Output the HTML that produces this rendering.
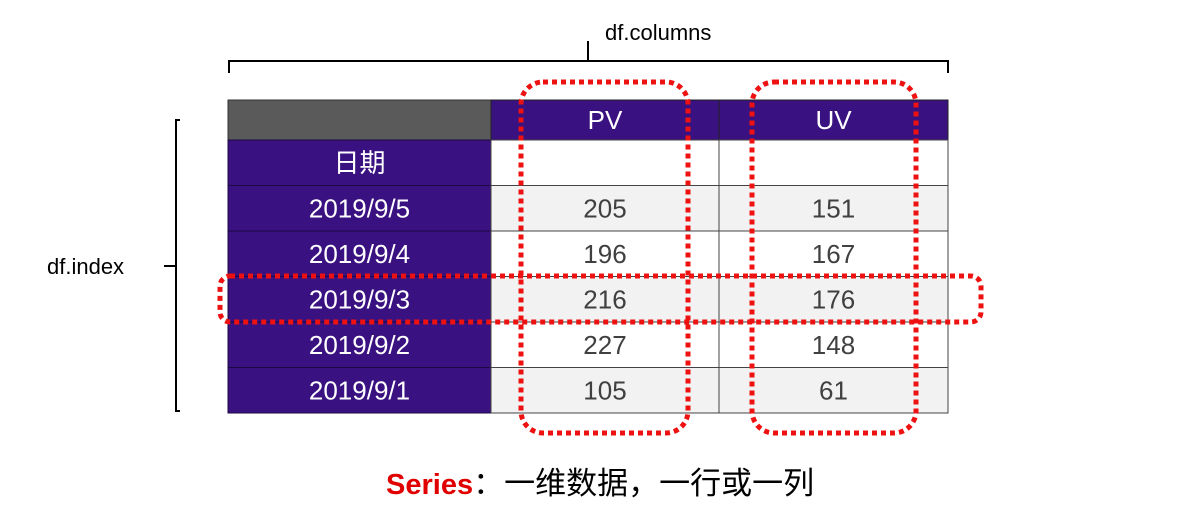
<!DOCTYPE html>
<html><head><meta charset="utf-8"><style>
html,body{margin:0;padding:0;background:#fff;width:1200px;height:523px;overflow:hidden}
svg text{font-family:"Liberation Sans","Noto Sans CJK SC",sans-serif}
.cell{font-size:26px;fill:#404040;text-anchor:middle;dominant-baseline:central}
.idx{font-size:26px;fill:#fff;text-anchor:middle;dominant-baseline:central}
</style></head><body>
<svg width="1200" height="523" viewBox="0 0 1200 523">
<g stroke="#000" stroke-width="2" fill="none">
<path d="M229 73 V61 H948 V73"/><path d="M588 61 V41"/></g>
<text x="605" y="40" font-size="22" fill="#000">df.columns</text>
<g stroke="#000" stroke-width="2" fill="none">
<path d="M180 120 H176 V411 H180"/><path d="M164 266 H176"/></g>
<text x="47" y="274" font-size="22" fill="#000">df.index</text>
<g id="tbl"></g>
<g fill="none" stroke="#ee1111" stroke-width="5" stroke-dasharray="5 4">
<rect x="521" y="82" width="167" height="351" rx="22"/>
<rect x="752" y="82" width="164" height="351" rx="22"/>
<rect x="220" y="276" width="761" height="46" rx="10"/>
</g>
<text x="386" y="494" font-size="29"><tspan fill="#e00000" font-weight="bold">Series</tspan><tspan fill="#000" font-size="31">：一维数据，一行或一列</tspan></text>
</svg>
<script>
const dates=["2019/9/5","2019/9/4","2019/9/3","2019/9/2","2019/9/1"];
const pv=[205,196,216,227,105];
const uv=[151,167,176,148,61];
const columns=["PV","UV"];
const tbl=document.getElementById('tbl');
const NS="http://www.w3.org/2000/svg";
function mk(t,a,txt){const e=document.createElementNS(NS,t);for(const k in a)e.setAttribute(k,a[k]);if(txt!==undefined)e.textContent=txt;tbl.appendChild(e);return e;}
const X=[228,491,719,948];const tableTop=100,rh=45.5;
let hc=mk('rect',{x:228,y:tableTop,width:263,height:40,fill:'#5a5a5a',stroke:'#333'});


columns.forEach((c,i)=>{let r=mk('rect',{x:X[i+1],y:tableTop,width:X[i+2]-X[i+1],height:40,fill:'#3a1180',stroke:'#222'});


mk('text',{x:(X[i+1]+X[i+2])/2,y:tableTop+20,class:'idx'},c);});
const y0=140;
function row(i,label,vals,shade){const y=y0+i*rh;
let r=mk('rect',{x:228,y:y,width:263,height:rh,fill:'#3a1180',stroke:'#1a0840'});


mk('text',{x:359.5,y:y+rh/2,class:'idx'},label);
vals.forEach((v,j)=>{let c=mk('rect',{x:X[j+1],y:y,width:X[j+2]-X[j+1],height:rh,fill:shade?'#f2f2f2':'#fff',stroke:'#444'});


mk('text',{x:(X[j+1]+X[j+2])/2,y:y+rh/2,class:'cell'},v);});}
row(0,"日期",["",""],false);
dates.forEach((d,i)=>row(i+1,d,[pv[i],uv[i]],i%2===0));
const hl=document.querySelector('g[stroke="#ee1111"]');
hl.parentNode.appendChild(hl);
</script>
</body></html>
